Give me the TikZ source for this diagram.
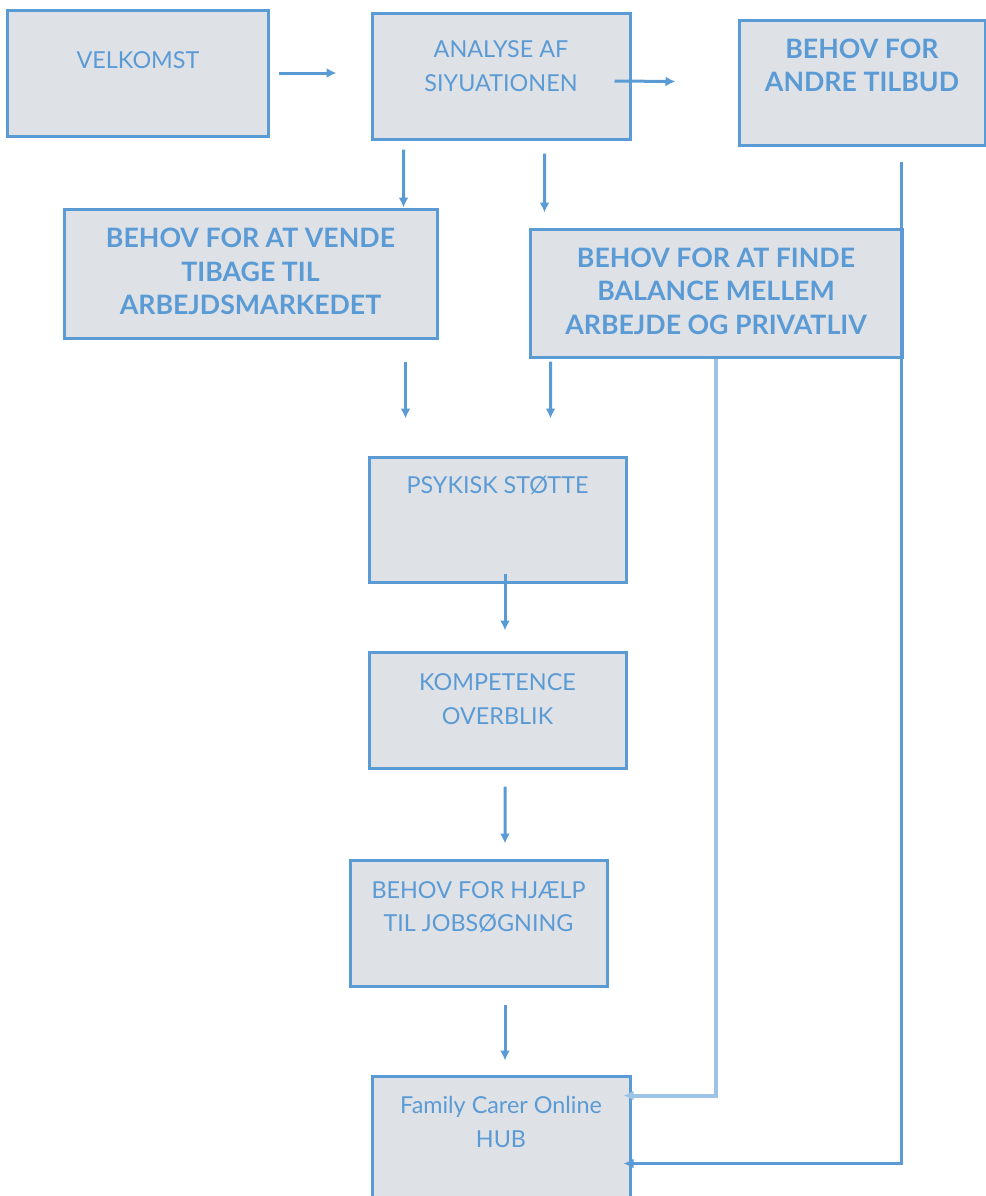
\documentclass[tikz,border=0pt]{standalone}
\usepackage{fontspec}
\setmainfont{Lato}
\usetikzlibrary{arrows.meta,calc,positioning}
\definecolor{hubblue}{HTML}{5B9BD5}
\definecolor{hublight}{HTML}{9DC3E6}
\definecolor{boxgray}{HTML}{DEE1E6}

\begin{document}
\begin{tikzpicture}[
    box/.style={rectangle,draw=hubblue,fill=boxgray,line width=0.6mm,
        inner sep=0pt},
    txt/.style={text=hubblue,align=center,
        font=\fontsize{13.3}{19}\selectfont},
    btxt/.style={txt,font=\fontsize{15.2}{19}\selectfont\bfseries},
    link/.style={draw=hubblue,line width=0.6mm,
        -{Latex[length=2mm,width=2mm]}},
    softlink/.style={link,draw=hublight,line width=0.8mm},
    ]

    \useasboundingbox (0,0) rectangle (19.72,-23.92);

    %Top row
    \node[box,minimum width=5.2cm,minimum height=2.52cm,
        label={[txt,yshift=2.6mm]center:VELKOMST}] (velkomst) at (2.76,-1.46) {};
    \node[box,minimum width=5.16cm,minimum height=2.52cm,
        label={[txt,yshift=2mm]center:ANALYSE AF\\SIYUATIONEN}] (analyse) at (10.02,-1.52) {};
    \node[box,minimum width=4.92cm,minimum height=2.5cm,
        label={[btxt,yshift=3.4mm]center:BEHOV FOR\\ANDRE TILBUD}] (andre) at (17.24,-1.65) {};

    %Needs
    \node[box,minimum width=7.46cm,minimum height=2.58cm,
        label={[btxt,yshift=0.4mm]center:BEHOV FOR AT VENDE\\TIBAGE TIL\\ARBEJDSMARKEDET}] (vende) at (5.01,-5.47) {};
    \node[box,minimum width=7.44cm,minimum height=2.56cm,
        label={[btxt,yshift=0.4mm]center:BEHOV FOR AT FINDE\\BALANCE MELLEM\\ARBEJDE OG PRIVATLIV}] (balance) at (14.32,-5.86) {};

    %Middle column
    \node[box,minimum width=5.14cm,minimum height=2.5cm,
        label={[txt,yshift=6.8mm]center:PSYKISK STØTTE}] (psykisk) at (9.95,-10.39) {};
    \node[box,minimum width=5.14cm,minimum height=2.32cm,
        label={[txt,yshift=2.2mm]center:KOMPETENCE\\OVERBLIK}] (kompetence) at (9.95,-14.2) {};
    \node[box,minimum width=5.14cm,minimum height=2.52cm,
        label={[txt,yshift=3.2mm]center:BEHOV FOR HJÆLP\\TIL JOBSØGNING}] (hjaelp) at (9.57,-18.46) {};
    \node[box,minimum width=5.16cm,minimum height=2.8cm,
        label={[txt,yshift=4.8mm]center:Family Carer Online\\HUB}] (hub) at (10.02,-22.92) {};

    %Arrows
    \draw[link,shorten <=1.8mm,shorten >=6.8mm] (velkomst.east) -- (velkomst.east -| analyse.west);
    \draw[link] ($(analyse.east)+(-0.34,-0.1)$) -- ($(andre.west)+(-1.24,0.02)$);
    \draw[link] ($(analyse.south west)+(0.66,-0.18)$) -- ($(vende.north west)+(6.82,0)$);
    \draw[link] ($(analyse.south west)+(3.48,-0.26)$) -- ($(balance.north west)+(0.32,0.3)$);
    \draw[link] ($(vende.south west)+(6.86,-0.44)$) -- ($(psykisk.north west)+(0.76,0.74)$);
    \draw[link] ($(balance.south west)+(0.44,-0.06)$) -- ($(psykisk.north west)+(3.66,0.74)$);
    \draw[link] ($(psykisk.south)+(0.15,0.2)$) -- ($(kompetence.north)+(0.15,0.4)$);
    \draw[link] ($(kompetence.south)+(0.15,-0.34)$) -- ($(hjaelp.north)+(0.53,0.3)$);
    \draw[link] ($(hjaelp.south)+(0.53,-0.34)$) -- ($(hub.north)+(0.08,0.28)$);

    %Side lines to the hub
    \draw[softlink] ($(balance.south west)+(3.74,0)$) |- ($(hub.north east)+(-0.16,-0.42)$);
    \draw[link] ($(andre.south west)+(3.28,-0.3)$) |- ($(hub.north east)+(-0.16,-1.78)$);

\end{tikzpicture}
\end{document}
